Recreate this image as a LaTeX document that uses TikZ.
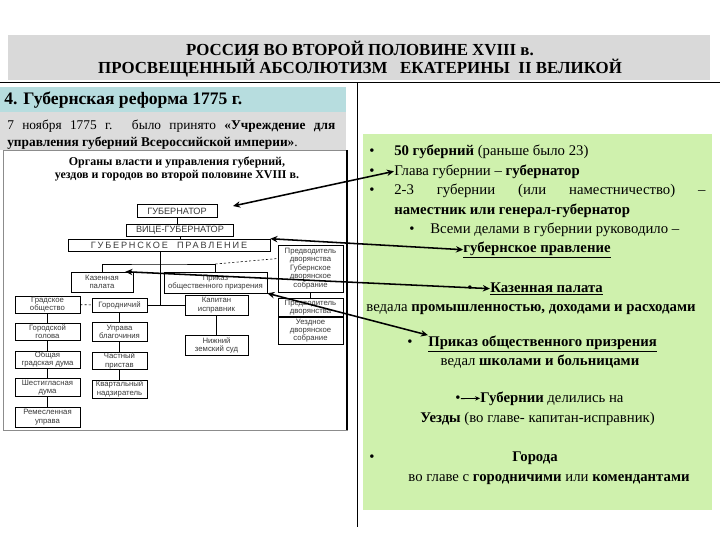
\documentclass[tikz,border=0pt]{standalone}
\usepackage{fontspec}
\setmainfont{Liberation Serif}
\newfontfamily\schemefont{Liberation Sans}
\usetikzlibrary{arrows.meta,positioning}
\definecolor{TitleGray}{HTML}{D9D9D9}
\definecolor{HeadCyan}{HTML}{B7DDDF}
\definecolor{NoteGray}{HTML}{DCDCDC}
\definecolor{PaleGreen}{HTML}{CFF1AD}
\definecolor{SchemeInk}{HTML}{3A3A3A}
\tikzset{
  orgbox/.style={draw=black, line width=0.4pt, fill=white, align=center, inner sep=0.5pt, text=SchemeInk, font=\schemefont\fontsize{5.5}{6}\selectfont},
  capbox/.style={orgbox, font=\schemefont\fontsize{6.5}{7}\selectfont},
  link/.style={line width=0.4pt, draw=black},
  dotlink/.style={link, dash pattern=on 1.5pt off 1.5pt},
  pointer/.style={{Stealth[length=1.8mm,width=1.6mm]}-{Stealth[length=1.8mm,width=1.6mm]}, line width=1.1pt},
  smallpointer/.style={-{Stealth[length=1.2mm,width=1.1mm]}, line width=0.6pt},
  bul/.style={inner sep=0pt, anchor=base, font=\fontsize{10.5}{12}\selectfont},
  rtext/.style={inner sep=0pt, font=\fontsize{10.5}{12}\selectfont}
}

\begin{document}
\begin{tikzpicture}[x=0.025cm, y=-0.025cm, node distance=0.25cm]
  \useasboundingbox (0,0) rectangle (720,540);

  % title band
  \fill[TitleGray] (8,35) rectangle (710,80);
  \node[align=center, inner sep=0pt, font=\bfseries\fontsize{12}{13}\selectfont] (title) at (360,59)
    {РОССИЯ ВО ВТОРОЙ ПОЛОВИНЕ XVIII в.\\ПРОСВЕЩЕННЫЙ АБСОЛЮТИЗМ\ \ \ ЕКАТЕРИНЫ\ \ II ВЕЛИКОЙ};
  \draw[line width=0.5pt] (0,82) -- (720,82);
  \draw[line width=0.6pt] (357,82) -- (357,527);

  % left column
  \fill[HeadCyan] (0,87) rectangle (346,112);
  \node[anchor=base west, inner sep=0pt, font=\bfseries\fontsize{12.5}{14}\selectfont] (head) at (4,104)
    {4. Губернская реформа 1775 г.};
  \fill[NoteGray] (0,112) rectangle (346,150);
  \node[anchor=base west, inner sep=0pt, font=\fontsize{9.5}{12}\selectfont] (note1) at (7,129)
    {\makebox[8.2cm][s]{7 ноября 1775 г. было принято \textbf{«Учреждение для}}};
  \node[anchor=base west, inner sep=0pt, font=\fontsize{9.5}{12}\selectfont] (note2) at (7,146)
    {\textbf{управления губерний Всероссийской империи»}.};

  % scheme
  \fill[white] (3,150) rectangle (347,430);
  \draw[black!45, line width=0.4pt] (3,150) rectangle (347,430);
  \draw[line width=0.8pt] (347,150) -- (347,430);
  \node[align=center, inner sep=0pt, font=\bfseries\fontsize{8.5}{9}\selectfont] (schemetitle) at (177,169)
    {Органы власти и управления губерний,\\уездов и городов во второй половине XVIII в.};

  \node[capbox, minimum width=2cm, minimum height=0.33cm] (gov) at (177,211) {ГУБЕРНАТОР};
  \node[capbox, minimum width=2.675cm, minimum height=0.3cm] (vice) at (180,230) {ВИЦЕ-ГУБЕРНАТОР};
  \node[capbox, minimum width=5.05cm, minimum height=0.3cm] (board) at (169,245)
    {\addfontfeature{LetterSpace=20}ГУБЕРНСКОЕ\quad ПРАВЛЕНИЕ};
  \node[orgbox, minimum width=1.625cm, minimum height=1.175cm] (nobgub) at (310.5,268.5)
    {Предводитель\\дворянства\\Губернское\\дворянское\\собрание};
  \node[orgbox, minimum width=1.625cm, minimum height=0.45cm, below=0.15cm of nobgub] (nobuezd) {Предводитель\\дворянства};
  \node[orgbox, minimum width=1.625cm, minimum height=0.675cm, below=0pt of nobuezd] (assembly) {Уездное\\дворянское\\собрание};

  \node[orgbox, minimum width=1.55cm, minimum height=0.5cm] (treasury) at (102,282) {Казенная\\палата};
  \node[orgbox, minimum width=2.575cm, minimum height=0.525cm] (charity) at (215.5,282.5) {Приказ\\общественного призрения};
  \node[orgbox, minimum width=1.575cm, minimum height=0.5cm] (captain) at (216.5,305) {Капитан\\исправник};
  \node[orgbox, minimum width=1.575cm, minimum height=0.5cm, below=0.5cm of captain] (court) {Нижний\\земский суд};

  \node[orgbox, minimum width=1.625cm, minimum height=0.375cm] (society) at (47.5,304.5) {Градское\\общество};
  \node[orgbox, minimum width=1.625cm, minimum height=0.425cm, below=of society] (mayor) {Городской\\голова};
  \node[orgbox, minimum width=1.625cm, minimum height=0.425cm, below=of mayor] (duma) {Общая\\градская дума};
  \node[orgbox, minimum width=1.625cm, minimum height=0.45cm, below=of duma] (council) {Шестигласная\\дума};
  \node[orgbox, minimum width=1.625cm, minimum height=0.5cm, below=of council] (guild) {Ремесленная\\управа};

  \node[orgbox, minimum width=1.375cm, minimum height=0.35cm] (governor) at (119.5,305) {Городничий};
  \node[orgbox, minimum width=1.375cm, minimum height=0.475cm, below=of governor] (police) {Управа\\благочиния};
  \node[orgbox, minimum width=1.375cm, minimum height=0.4cm, below=of police] (bailiff) {Частный\\пристав};
  \node[orgbox, minimum width=1.375cm, minimum height=0.45cm, below=of bailiff] (warden) {Квартальный\\надзиратель};

  \coordinate (fork) at (160,264);
  \draw[link] (gov.south) -- (gov.south |- vice.north);
  \draw[link] (vice.south) -- (vice.south |- board.north);
  \draw[link] (board.south -| fork) -- (fork);
  \draw[link] (treasury.north) |- (fork) -| (charity.north);
  \draw[link] (fork) -- (fork |- governor.east);
  \draw[link] (governor.east) -- (captain.west);
  \draw[dotlink] (charity.north |- fork) -- ([yshift=0.25cm]nobgub.west);
  \draw[dotlink] (society) -- (governor);
  \draw[link] (society) -- (mayor) -- (duma) -- (council) -- (guild);
  \draw[link] (governor) -- (police) -- (bailiff) -- (warden);
  \draw[link] (captain) -- (court);
  \draw[link] (nobgub) -- (nobuezd);

  % right column
  \fill[PaleGreen] (363,134) rectangle (712,510);
  \node[bul] (b1) at (372,155) {•};
  \node[rtext, anchor=base west] (r1) at (394,155) {\textbf{50 губерний} (раньше было 23)};
  \node[bul] (b2) at (372,175) {•};
  \node[rtext, anchor=base west] (r2) at (394,175) {Глава губернии – \textbf{губернатор}};
  \node[bul] (b3) at (372,194) {•};
  \node[rtext, anchor=base west] (r3) at (394,194) {\makebox[7.78cm][s]{2-3 губернии (или наместничество) –}};
  \node[rtext, anchor=base west] (r4) at (394,214) {\textbf{наместник или генерал-губернатор}};
  \node[bul] (b5) at (412,233) {•};
  \node[rtext, anchor=base west] (r5) at (430,233) {Всеми делами в губернии руководило –};
  \node[rtext, anchor=base] (r6) at (537,252) {\textbf{\underline{губернское правление}}};
  \node[bul] (b7) at (470,292) {•};
  \node[rtext, anchor=base west] (r7) at (490,292) {\textbf{\underline{Казенная палата}}};
  \node[rtext, anchor=base] (r8) at (531,311) {ведала \textbf{промышленностью, доходами и расходами}};
  \node[bul] (b9) at (410,346) {•};
  \node[rtext, anchor=base west] (r9) at (428,346) {\textbf{\underline{Приказ общественного призрения}}};
  \node[rtext, anchor=base] (r10) at (540,365) {ведал \textbf{школами и больницами}};
  \node[bul] (b11) at (458,402) {•};
  \node[rtext, anchor=base west] (r11) at (480,402) {\textbf{Губернии} делились на};
  \node[rtext, anchor=base west] (r12) at (420,422) {\textbf{Уезды} (во главе- капитан-исправник)};
  \node[bul] (b13) at (372,461) {•};
  \node[rtext, anchor=base] (r13) at (535,461) {\textbf{Города}};
  \node[rtext, anchor=base] (r14) at (549,481) {во главе с \textbf{городничими} или \textbf{комендантами}};

  % pointers
  \coordinate (govtip) at (233,206);
  \draw[pointer] (govtip) -- (r2.west);
  \draw[pointer] (board.north east) -- (r6.west);
  \draw[pointer] ([xshift=-0.2cm]treasury.north east) -- (r7.west);
  \draw[pointer] (charity.south east) -- (r9.north west);
  \draw[smallpointer] (b11) -- (r11.west);
\end{tikzpicture}
\end{document}
